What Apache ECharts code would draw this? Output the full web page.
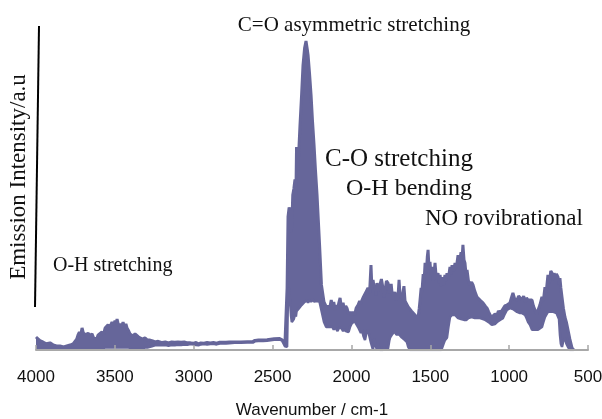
<!DOCTYPE html>
<html>
<head>
<meta charset="utf-8">
<script src="https://cdn.jsdelivr.net/npm/echarts@6/dist/echarts.min.js"></script>
<style>
html,body{margin:0;padding:0;background:#fff;}
#chart{width:602px;height:419px;}
</style>
</head>
<body>
<div id="chart"></div>
<script>
// Wavenumber (cm-1) sample positions
const wavenumber = [
 4000,3990,3975,3956,3935,3911,3890,3870,3848,3825,3805,3784,3765,3753,3742,3734,3725,3716,3708,3700,
 3689,3680,3670,3658,3645,3635,3626,3615,3607,3595,3582,3572,3562,3552,3543,3532,3518,3508,3499,3492,
 3486,3476,3467,3458,3448,3438,3430,3423,3412,3404,3395,3385,3372,3360,3350,3341,3325,3309,3293,3277,
 3260,3245,
 3225,3200,3180,3160,3140,3120,3100,3080,3060,3040,3020,3000,2985,2970,2955,2935,2915,2895,2875,2855,
 2835,2815,2795,2775,2740,2700,2660,2625,2612,2590,2560,2535,2525,2490,2455,2440,2430,2422,2414,
 2408,2402,2395,2389,2383,2378,2372,2365,2358,2352,2348,2339,2332,2326,2316,2307,2297,2288,2280,2275,
 2266,2256,2247,2237,2228,2218,2210,2202,2190,2174,2160,2149,2136,
 2128,2120,2112,2104,2096,2088,2080,2072,2064,2053,2044,2036,2028,2018,2009,2000,1990,1980,1970,1958,
 1948,1940,1933,1924,1914,1905,1895,1885,1876,1870,1863,1856,1850,1844,1838,1830,1819,1810,1800,1793,
 1787,1778,1768,1760,1755,1748,1743,1734,1724,1716,1705,1698,1692,1680,1667,1660,1648,1640,1629,1620,
 1610,1597,1586,1578,1570,1565,1558,1553,1545,1540,1533,1525,1519,1514,1508,1502,1495,1489,1480,1470,
 1462,1451,1444,1438,1430,1426,1416,1407,1400,1394,1385,1375,1368,1362,1352,1343,1335,1324,1315,1305,
 1298,1293,1286,1280,1272,1267,1258,1248,1238,1229,1218,1204,1194,1185,1175,1166,1152,1140,1130,1121,
 1110,1102,1090,1077,1068,1058,1048,1039,1028,1014,1005,995,986,976,965,950,940,931,918,908,
 899,890,880,868,855,846,836,826,817,805,792,783,773,765,754,745,736,728,720,715,
 709,700,690,684,678,672,665,656,646,637,627,615,601,590
];
// Upper edge of the noisy emission trace (a.u., 0-100)
const upperEnvelope = [
 4.2,3.6,3.0,2.6,2.0,2.3,1.6,1.3,1.3,1.0,1.3,1.6,2.0,2.6,3.5,4.8,5.8,5.0,7.1,5.5,
 6.1,4.8,5.5,4.5,5.2,3.9,4.2,3.5,4.8,4.2,5.8,5.0,7.1,6.5,8.1,7.4,9.0,8.1,9.4,8.4,
 10.0,7.7,8.4,7.4,9.0,7.1,8.4,7.1,6.1,5.2,5.8,4.5,5.2,5.5,4.2,4.5,3.5,3.9,3.2,3.2,
 2.9,2.6,
 2.8,2.4,2.6,2.3,2.6,2.5,2.6,2.5,2.6,2.3,2.3,2.2,2.4,2.0,2.3,2.2,2.4,2.3,2.4,2.2,
 2.5,2.5,2.5,2.6,2.6,2.6,2.7,2.7,3.1,3.2,3.2,3.3,3.6,3.6,3.7,3.3,2.3,1.5,1.0,
 20.0,43.0,46.0,45.0,38.0,40.0,50.0,52.0,55.0,50.0,65.5,58.0,66.0,72.6,82.3,91.9,97.4,99.7,97.0,95.2,
 89.5,82.3,74.0,66.1,58.0,50.0,42.0,33.9,21.0,15.5,14.0,13.5,14.0,
 16.1,13.5,15.5,12.9,14.5,13.2,15.2,16.8,13.9,15.2,12.9,14.2,13.5,11.6,12.3,11.3,12.3,11.3,13.5,14.5,
 15.8,14.8,16.1,17.1,17.7,19.0,20.0,18.4,27.4,19.7,22.6,20.3,21.0,17.7,21.6,19.0,19.4,22.9,20.0,17.1,
 17.4,22.3,21.6,18.4,19.4,21.3,18.7,17.4,18.7,16.1,16.8,22.6,17.7,16.5,20.6,15.8,15.5,13.9,13.5,12.6,
 12.3,11.3,11.0,10.3,13.5,16.1,20.0,18.7,24.5,21.3,28.1,24.8,30.0,32.3,26.1,28.4,23.9,26.8,22.3,28.1,
 23.2,24.8,21.6,24.2,20.6,23.5,21.0,24.2,22.3,24.8,23.2,26.8,24.5,27.4,25.5,28.1,26.5,30.6,28.4,31.5,
 29.7,33.9,29.0,28.1,23.5,25.8,22.3,21.0,21.9,21.0,19.0,17.1,17.7,16.1,15.8,15.2,14.2,13.5,12.3,11.3,
 10.6,10.3,11.6,11.3,12.6,11.9,12.6,12.3,14.2,14.5,13.9,15.2,16.8,18.4,16.5,16.1,17.4,17.1,16.1,17.4,
 15.5,16.8,16.1,16.5,16.1,14.2,12.9,11.6,11.9,14.5,17.1,15.8,20.3,18.7,24.2,21.6,25.5,24.8,22.6,24.8,
 23.2,24.5,23.5,21.3,23.2,20.0,17.1,13.5,10.6,9.0,6.5,3.5,0.6,0
];
// Lower edge of the noisy emission trace (a.u., 0-100)
const lowerEnvelope = [
 0.5,0.5,0.5,0.5,0.5,0.5,0.5,0.5,0.5,0.5,0.5,0.5,0.5,0.5,0.5,0.5,0.5,0.5,0.5,0.5,
 0.5,0.5,0.5,0.5,0.5,0.5,0.5,0.5,0.5,0.5,0.5,0.8,0.8,0.8,0.8,0.8,0.8,0.8,0.8,0.8,
 0.8,0.8,0.8,0.8,0.8,0.8,0.8,0.8,0.8,0.5,0.5,0.5,0.5,0.5,0.5,0.5,0.5,0.8,0.8,1.0,
 1.3,1.5,
 1.6,1.5,1.6,1.4,1.6,1.5,1.7,1.6,1.8,1.7,1.9,1.8,1.6,1.5,1.8,1.9,1.8,1.9,2.0,1.8,
 2.1,2.1,2.1,2.2,2.3,2.3,2.4,2.4,2.8,2.9,2.9,3.0,3.3,3.3,3.4,3.0,2.0,1.2,0.6,
 1.0,18.0,20.0,20.3,11.0,9.0,8.7,10.0,11.5,10.8,12.5,12.0,13.5,13.0,14.5,14.0,15.5,15.0,16.0,15.2,
 16.3,15.5,16.4,15.6,16.2,15.8,16.3,15.5,15.0,9.0,7.4,7.4,7.4,
 7.0,7.4,6.5,7.4,6.8,6.1,7.1,6.5,7.1,6.1,6.8,6.1,6.5,5.8,7.4,8.4,8.1,9.4,8.4,7.4,
 7.7,5.5,6.5,4.5,3.2,5.5,6.5,4.2,2.3,2.0,0,3.5,2.3,1.0,0,2.0,0,0.5,0,1.0,
 0,0.5,0.5,3.0,4.0,3.5,5.0,5.5,6.0,5.0,5.5,5.0,5.0,4.0,3.5,3.0,2.5,1.0,0,0,
 0,0,0,0,0,0,0,0,0,0,0,0,0,0,0,0,0,0,0,0,
 0,0,0,0,0,0.5,2.0,3.2,3.5,4.0,7.4,10.6,11.0,11.3,11.6,11.3,11.0,10.3,10.6,10.0,
 10.0,9.7,9.7,9.7,9.7,10.0,10.3,10.6,10.6,10.6,10.3,10.3,10.3,10.3,10.0,10.0,9.7,9.7,9.0,8.4,
 8.1,8.1,8.4,9.0,9.4,9.7,10.0,10.3,11.6,12.9,13.2,13.5,13.5,13.2,12.9,12.3,12.3,11.9,11.9,11.6,
 11.3,10.3,9.0,8.1,6.5,6.1,6.5,6.5,6.5,6.8,7.4,9.0,10.6,11.3,12.3,12.3,12.3,12.3,12.3,11.9,
 11.9,11.9,11.9,10.0,5.0,2.0,1.0,3.0,4.0,2.0,1.0,0,0,0
];
const xTickMin = 500;
const xTickMax = 4000;
const xTickStep = 500;
const annotations = ['C=O asymmetric stretching', 'C-O stretching', 'O-H bending', 'NO rovibrational', 'O-H stretching'];

const lineColor = '#66669a';
const upperData = wavenumber.map((w, i) => [w, upperEnvelope[i]]);
const lowerData = wavenumber.map((w, i) => [w, lowerEnvelope[i]]);

const chart = echarts.init(document.getElementById('chart'), null, {renderer: 'canvas'});
const serif = "'Liberation Serif', 'DejaVu Serif', serif";
chart.setOption({
  animation: false,
  backgroundColor: '#ffffff',
  grid: {left: 36, right: 14, top: 40, bottom: 69, containLabel: false, outerBoundsMode: 'none'},
  xAxis: {
    type: 'value', inverse: true, min: xTickMin, max: xTickMax, interval: xTickStep, z: 10,
    name: 'Wavenumber / cm-1', nameLocation: 'middle', nameGap: 52,
    nameTextStyle: {fontFamily: "'Liberation Sans', Arial, sans-serif", fontSize: 17, color: '#111'},
    axisLine: {show: true, lineStyle: {color: '#a8a8a8', width: 2}},
    axisTick: {show: true, inside: true, length: 5, lineStyle: {color: '#a8a8a8', width: 1.5}},
    axisLabel: {margin: 19, fontFamily: "'Liberation Sans', Arial, sans-serif", fontSize: 17, color: '#111',
                showMinLabel: true, showMaxLabel: true, formatter: v => String(v)},
    splitLine: {show: false}
  },
  yAxis: {type: 'value', min: 0, max: 100, show: false},
  series: [
    {type: 'line', name: 'upper', data: upperData, symbol: 'none', showSymbol: false,
     lineStyle: {color: lineColor, width: 3}, areaStyle: {color: lineColor, opacity: 1, origin: 'start'}, silent: true, z: 2},
    {type: 'line', name: 'lower', data: lowerData, symbol: 'none', showSymbol: false,
     lineStyle: {color: lineColor, width: 2.5}, areaStyle: {color: '#ffffff', opacity: 1, origin: 'start'}, silent: true, z: 3}
  ],
  graphic: [
    {type: 'line', shape: {x1: 39, y1: 26, x2: 35, y2: 307}, style: {stroke: '#000', lineWidth: 2}},
    {type: 'text', x: 19, y: 177, rotation: Math.PI / 2,
     style: {text: 'Emission Intensity/a.u', font: "23px " + serif, fill: '#111', textAlign: 'center', textVerticalAlign: 'middle'}},
    {type: 'text', x: 354, y: 25, style: {text: annotations[0], font: '21px ' + serif, fill: '#111', textAlign: 'center', textVerticalAlign: 'middle'}},
    {type: 'text', x: 325, y: 159, style: {text: annotations[1], font: '25px ' + serif, fill: '#111', textAlign: 'left', textVerticalAlign: 'middle'}},
    {type: 'text', x: 346, y: 189, style: {text: annotations[2], font: '24px ' + serif, fill: '#111', textAlign: 'left', textVerticalAlign: 'middle'}},
    {type: 'text', x: 425, y: 219, style: {text: annotations[3], font: '23px ' + serif, fill: '#111', textAlign: 'left', textVerticalAlign: 'middle'}},
    {type: 'text', x: 53, y: 266, style: {text: annotations[4], font: '20px ' + serif, fill: '#111', textAlign: 'left', textVerticalAlign: 'middle'}}
  ]
});
</script>
</body>
</html>
